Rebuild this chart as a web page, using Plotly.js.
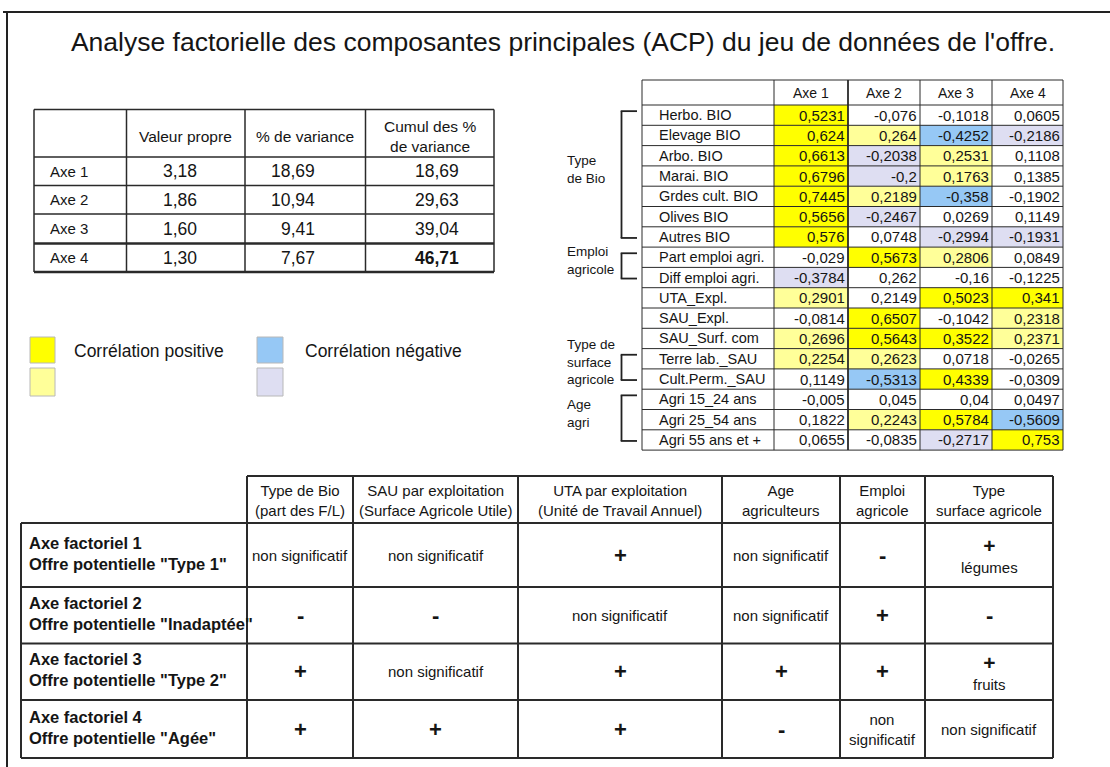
<!DOCTYPE html>
<html>
<head>
<meta charset="utf-8">
<script src="https://cdn.plot.ly/plotly-3.0.1.min.js"></script>
<style>html,body{margin:0;padding:0;background:#fff;}#chart{width:1110px;height:767px;}</style>
</head>
<body>
<div id="chart"></div>
<script>
// ---------------- DATA ----------------
const chartTitle = "Analyse factorielle des composantes principales (ACP) du jeu de données de l'offre.";

// Eigenvalue table
const eigenAxes = ["Axe 1", "Axe 2", "Axe 3", "Axe 4"];
const eigenHeaders = ["Valeur propre", "% de variance", "Cumul des %<br>de variance"];
const eigenValues = [3.18, 1.86, 1.60, 1.30];
const variancePct = [18.69, 10.94, 9.41, 7.67];
const cumulPct = [18.69, 29.63, 39.04, 46.71];

// Legend
const legendPositive = "Corrélation positive";
const legendNegative = "Corrélation négative";

// Correlation table
const corrAxesHeaders = ["Axe 1", "Axe 2", "Axe 3", "Axe 4"];
const corrVars = ["Herbo. BIO", "Elevage BIO", "Arbo. BIO", "Marai. BIO", "Grdes cult. BIO", "Olives BIO", "Autres BIO",
  "Part emploi agri.", "Diff emploi agri.", "UTA_Expl.", "SAU_Expl.", "SAU_Surf. com", "Terre lab._SAU",
  "Cult.Perm._SAU", "Agri 15_24 ans", "Agri 25_54 ans", "Agri 55 ans et +"];
const corrAxe1 = [0.5231, 0.624, 0.6613, 0.6796, 0.7445, 0.5656, 0.576, -0.029, -0.3784, 0.2901, -0.0814, 0.2696, 0.2254, 0.1149, -0.005, 0.1822, 0.0655];
const corrAxe2 = [-0.076, 0.264, -0.2038, -0.2, 0.2189, -0.2467, 0.0748, 0.5673, 0.262, 0.2149, 0.6507, 0.5643, 0.2623, -0.5313, 0.045, 0.2243, -0.0835];
const corrAxe3 = [-0.1018, -0.4252, 0.2531, 0.1763, -0.358, 0.0269, -0.2994, 0.2806, -0.16, 0.5023, -0.1042, 0.3522, 0.0718, 0.4339, 0.04, 0.5784, -0.2717];
const corrAxe4 = [0.0605, -0.2186, 0.1108, 0.1385, -0.1902, 0.1149, -0.1931, 0.0849, -0.1225, 0.341, 0.2318, 0.2371, -0.0265, -0.0309, 0.0497, -0.5609, 0.753];
// significance level of each correlation (0 none, 1 moderate, 2 strong)
const sigAxe1 = [2, 2, 2, 2, 2, 2, 2, 0, 1, 1, 0, 1, 1, 0, 0, 0, 0];
const sigAxe2 = [0, 1, 1, 1, 1, 1, 0, 2, 0, 0, 2, 2, 1, 2, 0, 1, 0];
const sigAxe3 = [0, 2, 1, 1, 2, 0, 1, 1, 0, 2, 0, 2, 0, 2, 0, 2, 1];
const sigAxe4 = [0, 1, 0, 0, 0, 0, 1, 0, 0, 2, 1, 1, 0, 0, 0, 2, 2];

// Variable groups
const groupNames = ["Type<br>de Bio", "Emploi<br>agricole", "Type de<br>surface<br>agricole", "Age<br>agri"];
const groupFirst = [0, 7, 12, 14];
const groupLast = [6, 8, 13, 16];

// Summary table
const summaryAxes = ["Axe factoriel 1", "Axe factoriel 2", "Axe factoriel 3", "Axe factoriel 4"];
const summaryOffers = ['Offre potentielle "Type 1"', 'Offre potentielle "Inadaptée"', 'Offre potentielle "Type 2"', 'Offre potentielle "Agée"'];
const summaryHeaders = ["Type de Bio<br>(part des F/L)", "SAU par exploitation<br>(Surface Agricole Utile)",
  "UTA par exploitation<br>(Unité de Travail Annuel)", "Age<br>agriculteurs", "Emploi<br>agricole", "Type<br>surface agricole"];
const summaryCells = [
  ["non significatif", "non significatif", "+", "non significatif", "-", "+"],
  ["-", "-", "non significatif", "non significatif", "+", "-"],
  ["+", "non significatif", "+", "+", "+", "+"],
  ["+", "+", "+", "-", "non<br>significatif", "non significatif"]
];
const summaryNotes = [
  ["", "", "", "", "", "légumes"],
  ["", "", "", "", "", ""],
  ["", "", "", "", "", "fruits"],
  ["", "", "", "", "", ""]
];

// ---------------- STYLE / LAYOUT ----------------
const FONT = "Liberation Sans, Arial, sans-serif";
const INK = "#151515";
const LINE = "#2a2a2a";
const COL_POS = ["#ffffff", "#ffff99", "#ffff00"];
const COL_NEG = ["#ffffff", "#dedef2", "#96c8f5"];

const shapes = [];
const annotations = [];

function line(x0, y0, x1, y1, w, c) {
  shapes.push({type: "line", xref: "x", yref: "y", x0, y0, x1, y1, line: {color: c || LINE, width: w || 1}});
}
function rect(x0, y0, x1, y1, fill, lc, lw) {
  shapes.push({type: "rect", xref: "x", yref: "y", x0, y0, x1, y1, fillcolor: fill, layer: "below",
    line: {color: lc || "rgba(0,0,0,0)", width: lw || 0}});
}
function text(x, y, t, size, anchor, bold, color) {
  annotations.push({xref: "x", yref: "y", x, y, text: bold ? "<b>" + t + "</b>" : t, showarrow: false,
    xanchor: anchor || "center", yanchor: "middle", align: anchor === "left" ? "left" : (anchor === "right" ? "right" : "center"),
    font: {family: FONT, size: size, color: color || INK}, borderpad: 0});
}
const fr = v => String(v).replace(".", ",");

// Outer frame
line(7, 12, 7, 767, 2, "#222");
line(3, 12, 1110, 12, 2, "#222");

// ---- Eigenvalue table ----
const eX = [34, 126.5, 245, 365.5, 494];
const eY = [109.5, 157, 185.5, 214, 243.5, 272];
const eValRight = [198, 316, 460];
eigenHeaders.forEach((h, j) => text((eX[j + 1] + eX[j + 2]) / 2, 136, h, 15.5));
eigenAxes.forEach((a, i) => {
  const yc = (eY[i + 1] + eY[i + 2]) / 2;
  text(49, yc, a, 15, "left");
  text(eValRight[0], yc, eigenValues[i].toFixed(2).replace(".", ","), 17.5, "right");
  text(eValRight[1], yc, variancePct[i].toFixed(2).replace(".", ","), 17.5, "right");
  text(eValRight[2], yc, cumulPct[i].toFixed(2).replace(".", ","), 17.5, "right", i === eigenAxes.length - 1);
});
eY.forEach((y, k) => line(eX[0], y, eX[4], y, (k === 4 || k === 5) ? 2.5 : 1.5));
eX.forEach(x => line(x, eY[0], x, eY[5], 1.5));

// ---- Legend ----
rect(30, 337, 55, 363, COL_POS[2], "#b8b8b8", 1);
rect(30, 368, 55, 396, COL_POS[1], "#b8b8b8", 1);
rect(257, 337, 283, 363, COL_NEG[2], "#b8b8b8", 1);
rect(257, 368, 283, 396, COL_NEG[1], "#b8b8b8", 1);
text(73, 351, legendPositive, 17.5, "left");
text(304, 351, legendNegative, 17.5, "left");

// ---- Correlation table ----
const cX = [642, 774, 848, 920, 992, 1063];
const cTop = 80, cHead = 105, cRow = 20.3;
const rowY = i => cHead + cRow * i;
const rowC = i => cHead + cRow * (i + 0.5);
const corrCols = [corrAxe1, corrAxe2, corrAxe3, corrAxe4];
const sigCols = [sigAxe1, sigAxe2, sigAxe3, sigAxe4];
corrAxesHeaders.forEach((h, j) => text((cX[j + 1] + cX[j + 2]) / 2, 93, h, 14));
corrVars.forEach((v, i) => {
  text(658, rowC(i), v, 14.5, "left");
  corrCols.forEach((col, j) => {
    const val = col[i], s = sigCols[j][i];
    if (s > 0) rect(cX[j + 1], rowY(i), cX[j + 2], rowY(i + 1), val >= 0 ? COL_POS[s] : COL_NEG[s]);
    text(cX[j + 2] - 2, rowC(i), fr(val), 15, "right");
  });
});
for (let i = 0; i <= corrVars.length; i++) line(cX[0], rowY(i), cX[5], rowY(i), 1);
line(cX[0], cTop, cX[5], cTop, 1);
cX.forEach((x, k) => line(x, cTop, x, rowY(corrVars.length), k === 2 ? 1.8 : 1));

// Group brackets
groupNames.forEach((g, k) => {
  const y0 = rowC(groupFirst[k]) - 4, y1 = rowC(groupLast[k]) + 1;
  line(621.5, y0, 621.5, y1, 1.8, "#222");
  line(620.7, y0, 637, y0, 1.8, "#222");
  line(620.7, y1, 637, y1, 1.8, "#222");
  text(566, (y0 + y1) / 2 - 5, g, 13.5, "left");
});

// ---- Summary table ----
const sX = [21, 247, 353, 518, 722, 840, 925, 1053];
const sY = [476, 523, 587, 643.5, 700, 758];
summaryHeaders.forEach((h, j) => text((sX[j + 1] + sX[j + 2]) / 2, 500, h, 15));
summaryAxes.forEach((a, i) => {
  const yc = (sY[i + 1] + sY[i + 2]) / 2;
  text(28, yc - 2, a + "<br>" + summaryOffers[i], 16.5, "left", true);
  summaryCells[i].forEach((c, j) => {
    const xc = (sX[j + 1] + sX[j + 2]) / 2;
    const note = summaryNotes[i][j];
    if (c === "+" || c === "-") {
      if (note) {
        text(xc, yc, '<span style="font-size:21px"><b>' + c + '</b></span><br>' + note, 15);
      } else {
        text(xc, yc, c, 22, "center", true);
      }
    } else {
      text(xc, yc, c, 15);
    }
  });
});
sY.forEach((y, k) => line(k === 0 ? sX[1] : sX[0], y, sX[7], y, 2));
sX.forEach((x, k) => line(x, k === 0 ? sY[1] : sY[0], x, sY[5], 2));

// ---------------- RENDER ----------------
const layout = {
  width: 1110, height: 767,
  margin: {l: 0, r: 0, t: 0, b: 0},
  paper_bgcolor: "#ffffff", plot_bgcolor: "#ffffff",
  showlegend: false,
  title: {text: chartTitle, x: 563 / 1110, xanchor: "center", y: 1 - 42 / 767, yanchor: "middle",
    font: {family: FONT, size: 26.5, color: INK}},
  xaxis: {range: [0, 1110], visible: false, fixedrange: true},
  yaxis: {range: [767, 0], visible: false, fixedrange: true},
  shapes, annotations
};
Plotly.newPlot("chart", [{type: "scatter", x: [], y: [], hoverinfo: "skip"}], layout, {staticPlot: true});
</script>
</body>
</html>
